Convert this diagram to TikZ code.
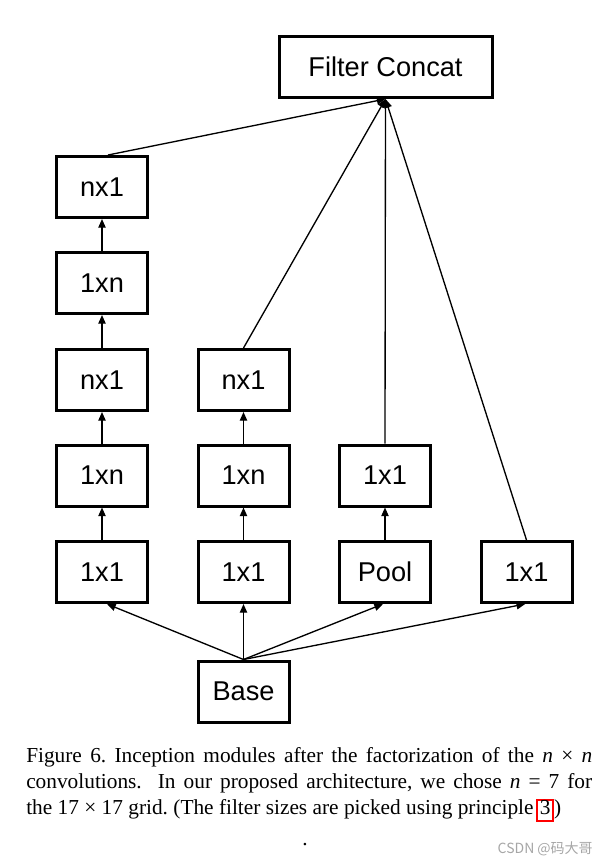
\documentclass[tikz,border=0pt]{standalone}
\usepackage{fontspec}
\setmainfont{Liberation Serif}
\newfontfamily\boxfont{Liberation Sans}
\newfontfamily\cjkfont{Noto Sans CJK SC}
\usetikzlibrary{arrows.meta}
\begin{document}
\frenchspacing
\begin{tikzpicture}[x=0.75pt,y=-0.75pt,
  blk/.style={draw, line width=2.25pt, minimum width=68.25pt, minimum height=45.75pt, inner sep=0pt,
    font=\boxfont\fontsize{20.4}{24}\selectfont},
  conn/.style={line width=1pt, -{Triangle[length=6.5pt,width=5.5pt]}},
  captxt/.style={anchor=base west, inner sep=0pt, font=\fontsize{16}{19}\selectfont}]
\useasboundingbox (0,0) rectangle (609,864);

% top
\node[blk, minimum width=159.75pt] (fc) at (385.5,67) {Filter Concat};
% column 1
\node[blk] (a5) at (102,187) {nx1};
\node[blk] (a4) at (102,283) {1xn};
\node[blk] (a3) at (102,380) {nx1};
\node[blk] (a2) at (102,475.5) {1xn};
\node[blk] (a1) at (102,572) {1x1};
% column 2
\node[blk] (b3) at (243.5,380) {nx1};
\node[blk] (b2) at (243.5,475.5) {1xn};
\node[blk] (b1) at (243.5,572) {1x1};
% column 3
\node[blk] (c2) at (385,475.5) {1x1};
\node[blk] (c1) at (385,572) {Pool};
% column 4
\node[blk] (d1) at (526.5,572) {1x1};
% base
\node[blk] (base) at (243.5,691.5) {Base};

% vertical chains
\draw[conn] (a1.north) -- (a2.south);
\draw[conn] (a2.north) -- (a3.south);
\draw[conn] (a3.north) -- (a4.south);
\draw[conn] (a4.north) -- (a5.south);
\draw[conn] (b1.north) -- (b2.south);
\draw[conn] (b2.north) -- (b3.south);
\draw[conn] (c1.north) -- (c2.south);

% from base
\draw[conn] (base.north) -- ([xshift=3.75pt]a1.south);
\draw[conn] (base.north) -- (b1.south);
\draw[conn] (base.north) -- ([xshift=-1.5pt]c1.south);
\draw[conn] (base.north) -- ([xshift=-1pt]d1.south);

% to filter concat
\draw[conn] ([xshift=4.5pt]a5.north) -- (fc.south);
\draw[conn] (b3.north) -- (fc.south);
\draw[conn] (c2.north) -- (fc.south);
\draw[conn] (d1.north) -- (fc.south);

% caption
\node[captxt] (l1) at (26,762) {\makebox[424.5pt][s]{Figure 6. Inception modules after the factorization of the \textit{n} × \textit{n}}};
\node[captxt] (l2) at (26,788) {\makebox[424.5pt][s]{convolutions.\ \ In our proposed architecture, we chose \textit{n} = 7 for}};
\node[captxt] (l3) at (26,814) {the 17 × 17 grid. (The filter sizes are picked using principle};
\node[captxt, draw=red, line width=1.4pt, inner xsep=1.8pt, text height=10.5pt, text depth=5.5pt, xshift=2pt] (ref) at (l3.base east) {3};
\node[captxt] (rp) at (ref.base east) {)};
\node[captxt, anchor=base] (dot) at (305,845) {.};
\node[anchor=base east, inner sep=0pt, text=black!35, font=\cjkfont\fontsize{10.5}{12}\selectfont] (wm) at (593,853) {CSDN @码大哥};
\end{tikzpicture}
\end{document}
